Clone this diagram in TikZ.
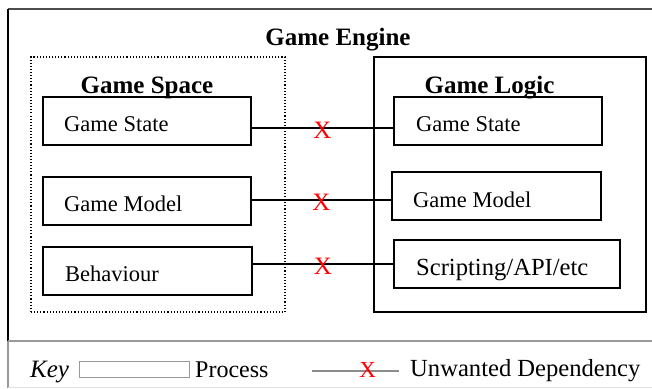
\documentclass[tikz,border=0pt]{standalone}
\usepackage{fontspec}
\setmainfont{Liberation Serif}
\begin{document}
\begin{tikzpicture}[x=1pt,y=-1pt,
  box/.style={draw, line width=1.3pt, outer sep=0pt, inner sep=0pt, anchor=north west},
  groupbox/.style={draw, line width=1.3pt, outer sep=0pt, inner sep=0pt, anchor=north west},
  spacebox/.style={draw, line width=1.1pt, dotted, outer sep=0pt, inner sep=0pt, anchor=north west},
  txt/.style={anchor=base west, inner sep=0pt, font=\fontsize{22.5pt}{27pt}\selectfont},
  bigtxt/.style={anchor=base west, inner sep=0pt, font=\fontsize{24.6pt}{29pt}\selectfont},
  title/.style={anchor=base, inner sep=0pt, font=\fontsize{25pt}{30pt}\selectfont\bfseries},
  conn/.style={draw, line width=1.3pt},
  xmark/.style={text=red, inner sep=0pt, font=\fontsize{25pt}{29pt}\selectfont, yshift=-2pt}
]
\useasboundingbox (0,0) rectangle (652,388);

% frame
\coordinate (tl) at (8,9);
\coordinate (tr) at (652,9);
\coordinate (ml) at (8,341);
\coordinate (mr) at (652,341);
\coordinate (bl) at (8,388);
\coordinate (bbl) at (8,387);
\coordinate (bbr) at (652,387);
\draw[black!70, line width=1.5pt] (tl) -- (tr);
\draw[black, line width=1.5pt] (tl) -- (ml);
\draw[black!40, line width=1.5pt] (ml) -- (bl);
\draw[black!40, line width=1.8pt] (ml) -- (mr);
\draw[black!12, line width=1pt] (bbl) -- (bbr);

% titles
\node[title] (engine) at (338,45) {Game Engine};

% groups
\node[spacebox, minimum width=254pt, minimum height=255pt] (space) at (31,57) {};
\node[groupbox, minimum width=272pt, minimum height=255pt] (logic) at (374,57) {};
\node[title] (spacet) at (147,93) {Game Space};
\node[title] (logict) at (489.5,93) {Game Logic};

% left boxes
\node[box, minimum width=208pt, minimum height=48pt] (lgs) at (43,97) {};
\node[box, minimum width=208pt, minimum height=48pt] (lgm) at (43,177) {};
\node[box, minimum width=209pt, minimum height=48pt] (lbeh) at (43,247) {};
\node[txt] (lgst) at (64,131) {Game State};
\node[txt] (lgmt) at (64,211) {Game Model};
\node[txt] (lbeht) at (65,281) {Behaviour};

% right boxes
\node[box, minimum width=208pt, minimum height=48pt] (rgs) at (394,97) {};
\node[box, minimum width=209pt, minimum height=48pt] (rgm) at (392,172) {};
\node[box, minimum width=226pt, minimum height=48pt] (rscr) at (394,240) {};
\node[txt] (rgst) at (416,131) {Game State};
\node[txt] (rgmt) at (413,207) {Game Model};
\node[bigtxt] (rscrt) at (416,275) {Scripting/API/etc};

% connectors
\draw[conn] ([yshift=-7pt]lgs.east) -- node[xmark]{X} ([yshift=-7pt]rgs.west);
\draw[conn] ([yshift=1pt]lgm.east) -- node[xmark]{X} ([yshift=-4pt]rgm.west);
\draw[conn] ([yshift=7pt]lbeh.east) -- node[xmark]{X} (rscr.west);

% key
\node[anchor=base west, inner sep=0pt, font=\fontsize{25pt}{30pt}\selectfont\itshape] (key) at (30,377) {Key};
\node[draw=black!40, line width=1pt, outer sep=0pt, inner sep=0pt, anchor=north west, minimum width=110pt, minimum height=16pt] (keybox) at (79,361) {};
\node[anchor=base west, inner sep=0pt, font=\fontsize{24pt}{29pt}\selectfont] (proc) at (195,377) {Process};
\coordinate (k1) at (312,371);
\coordinate (k2) at (399,371);
\draw[black!45, line width=1.8pt] (k1) -- node[pos=0.64, text=red, inner sep=0pt, font=\fontsize{23pt}{27pt}\selectfont, yshift=1pt]{X} (k2);
\node[anchor=base west, inner sep=0pt, font=\fontsize{24.6pt}{29pt}\selectfont] (unw) at (410,376) {Unwanted Dependency};
\end{tikzpicture}
\end{document}
